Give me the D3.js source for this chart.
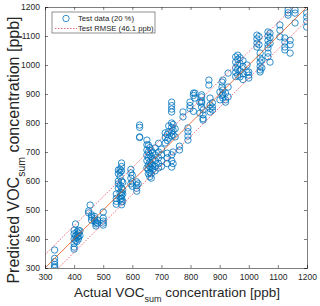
<!DOCTYPE html>
<html>
<head>
<meta charset="utf-8">
<title>voc test scatter</title>
<script src="https://d3js.org/d3.v7.min.js"></script>
<style>
  body { margin: 0; background: #fff; }
  text { font-family: "Liberation Sans", Arial, sans-serif; fill: #262626; }
</style>
</head>
<body>
<script>
// actual concentration levels and predicted values measured at each level
var actualLevels = [333, 400, 405, 410, 415, 420, 450, 455, 460, 470, 475, 480, 500,
  545, 552, 558, 563, 567, 595, 600, 615, 620, 625, 650, 655, 660, 665, 670, 678, 690, 700,
  713, 720, 725, 735, 740, 747, 762, 774, 791, 798, 810, 815, 832, 838, 843, 863, 867, 875,
  901, 908, 911, 920, 929, 955, 962, 970, 980, 994, 1000, 1028, 1035, 1039, 1045,
  1066, 1073, 1107, 1124, 1135, 1142, 1159, 1199];
var predictedSets = [
  [362, 333, 322, 312, 305, 301],
  [430, 418, 400, 385, 372, 365],
  [452, 410, 395],
  [425, 415, 405, 392],
  [430, 420, 408, 400],
  [428, 412],
  [497, 490],
  [517],
  [483, 475, 465],
  [478, 470, 462],
  [458, 452, 445],
  [465, 455],
  [493, 472, 462, 455, 448],
  [555, 540, 530, 520],
  [638, 625, 600, 590, 575],
  [640, 630, 615, 585, 560, 545, 535],
  [662, 650, 635, 600, 575, 560, 550, 540, 528, 518],
  [595, 570, 555, 530],
  [640, 628, 610, 590],
  [620, 597, 582],
  [597, 585, 575, 565],
  [590],
  [793, 785, 752, 750],
  [741, 725, 707, 690, 670, 645],
  [724, 700, 680, 655, 640, 625],
  [715, 690, 665, 650, 630, 615],
  [705, 685, 660, 645, 625, 610],
  [698, 675, 655, 640],
  [714, 690, 670, 650, 635],
  [730, 700, 680, 660, 645],
  [710, 690, 670, 650],
  [766, 750, 731],
  [760, 740, 696, 680, 660],
  [790, 770, 748],
  [872, 860, 848, 838, 800, 785, 770, 755, 690, 670, 648],
  [795, 775, 760, 700, 660],
  [780, 752],
  [720, 707],
  [838, 821],
  [783, 770, 755, 741],
  [872, 860, 850],
  [903, 895, 840],
  [903, 886],
  [872, 834],
  [897, 890, 875, 869, 855],
  [845, 828, 815, 810],
  [948, 931],
  [886, 862, 850, 838],
  [870, 855, 845],
  [907, 880],
  [941, 924, 895],
  [948, 914, 900, 886],
  [903, 880, 872],
  [972, 924, 890],
  [1028, 1010, 990, 975, 960],
  [1034, 1020, 1000, 985, 965],
  [1025, 1005, 980, 959],
  [1015, 995, 970, 950],
  [1000, 975],
  [976, 965, 955],
  [1103, 1090, 1075, 1062],
  [1098, 1070],
  [1041, 1024, 1010, 995, 983, 976],
  [1017, 990],
  [1114, 1100, 1085, 1070, 1059, 1041, 1028],
  [1110, 1095, 1075, 1010],
  [1138, 1120, 1097],
  [1093, 1079, 1062, 1052],
  [1190, 1180, 1172],
  [1085, 1070, 1041],
  [1190, 1179, 1145],
  [1179, 1165, 1150, 1131]
];
var tickValues = [300, 400, 500, 600, 700, 800, 900, 1000, 1100, 1200];
var rmse = 46.1;
var legendLabels = ["Test data (20 %)", "Test RMSE (46.1 ppb)"];

var size = {width: 320, height: 306};
var margin = {left: 45, right: 13, top: 7, bottom: 38};

// flatten the columns into points
var points = [];
actualLevels.forEach(function(a, i){
  predictedSets[i].forEach(function(p){ points.push([a, p]); });
});

var svg = d3.select("body").append("svg")
  .attr("width", size.width)
  .attr("height", size.height);

var x = d3.scaleLinear().domain([300, 1200]).range([margin.left, size.width - margin.right]);
var y = d3.scaleLinear().domain([300, 1200]).range([size.height - margin.bottom, margin.top]);

// clip so the bands stay inside the box
svg.append("defs").append("clipPath").attr("id", "plotclip")
  .append("rect")
  .attr("x", x(300)).attr("y", y(1200))
  .attr("width", x(1200) - x(300)).attr("height", y(300) - y(1200));

var plot = svg.append("g").attr("clip-path", "url(#plotclip)");

// markers
plot.append("g")
  .selectAll("circle")
  .data(points)
  .enter()
  .append("circle")
  .attr("cx", function(d){ return x(d[0]); })
  .attr("cy", function(d){ return y(d[1]); })
  .attr("r", 3.2)
  .attr("fill", "none")
  .attr("stroke", "#0072BD")
  .attr("stroke-width", 0.8);

// identity line
plot.append("line")
  .attr("x1", x(300)).attr("y1", y(300))
  .attr("x2", x(1200)).attr("y2", y(1200))
  .attr("stroke", "#D95319").attr("stroke-width", 0.8);

// rmse bands
[rmse, -rmse].forEach(function(off){
  plot.append("line")
    .attr("x1", x(300)).attr("y1", y(300 + off))
    .attr("x2", x(1200)).attr("y2", y(1200 + off))
    .attr("stroke", "#e8455a").attr("stroke-width", 0.8)
    .attr("stroke-dasharray", "1.5,1.5");
});

// axes, ticks inward on all four sides
var fmt = d3.format("d");
var axBottom = svg.append("g")
  .attr("transform", "translate(0," + y(300) + ")")
  .call(d3.axisBottom(x).tickValues(tickValues).tickSize(-3).tickPadding(6).tickFormat(fmt));
var axLeft = svg.append("g")
  .attr("transform", "translate(" + x(300) + ",0)")
  .call(d3.axisLeft(y).tickValues(tickValues).tickSize(-3).tickPadding(5).tickFormat(fmt));
var axTop = svg.append("g")
  .attr("transform", "translate(0," + y(1200) + ")")
  .call(d3.axisTop(x).tickValues(tickValues).tickSize(-3).tickFormat(""));
var axRight = svg.append("g")
  .attr("transform", "translate(" + x(1200) + ",0)")
  .call(d3.axisRight(y).tickValues(tickValues).tickSize(-3).tickFormat(""));

[axBottom, axLeft, axTop, axRight].forEach(function(g){
  g.selectAll("path").attr("stroke", "#262626").attr("stroke-width", 0.6);
  g.selectAll("line").attr("stroke", "#262626").attr("stroke-width", 0.6);
  g.selectAll("text").attr("font-size", 8.5).attr("fill", "#404040")
    .attr("font-family", "Liberation Sans, Arial, sans-serif");
});

// axis titles
var xl = svg.append("text")
  .attr("x", 177).attr("y", 297)
  .attr("text-anchor", "middle")
  .attr("font-size", 13.5);
xl.append("tspan").text("Actual VOC");
xl.append("tspan").attr("font-size", 9).attr("dy", 5).text("sum");
xl.append("tspan").attr("dy", -5).text(" concentration [ppb]");

var yl = svg.append("text")
  .attr("transform", "translate(19,150) rotate(-90)")
  .attr("text-anchor", "middle")
  .attr("font-size", 16);
yl.append("tspan").text("Predicted VOC");
yl.append("tspan").attr("font-size", 10.5).attr("dy", 5.5).text("sum");
yl.append("tspan").attr("dy", -5.5).text(" concentration [ppb]");

// legend
var lg = svg.append("g");
lg.append("rect")
  .attr("x", 52).attr("y", 12).attr("width", 103).attr("height", 21)
  .attr("fill", "#fff").attr("stroke", "#262626").attr("stroke-width", 0.5);
lg.append("circle")
  .attr("cx", 66).attr("cy", 18.5).attr("r", 3.2)
  .attr("fill", "none").attr("stroke", "#0072BD").attr("stroke-width", 0.8);
lg.append("line")
  .attr("x1", 55).attr("x2", 77).attr("y1", 28.5).attr("y2", 28.5)
  .attr("stroke", "#e8455a").attr("stroke-width", 0.8).attr("stroke-dasharray", "1.5,1.5");
lg.selectAll(".lab")
  .data(legendLabels)
  .enter()
  .append("text")
  .attr("class", "lab")
  .attr("x", 78)
  .attr("y", function(d, i){ return 21.3 + i * 10; })
  .attr("font-size", 7.7)
  .text(function(d){ return d; });
</script>
</body>
</html>
